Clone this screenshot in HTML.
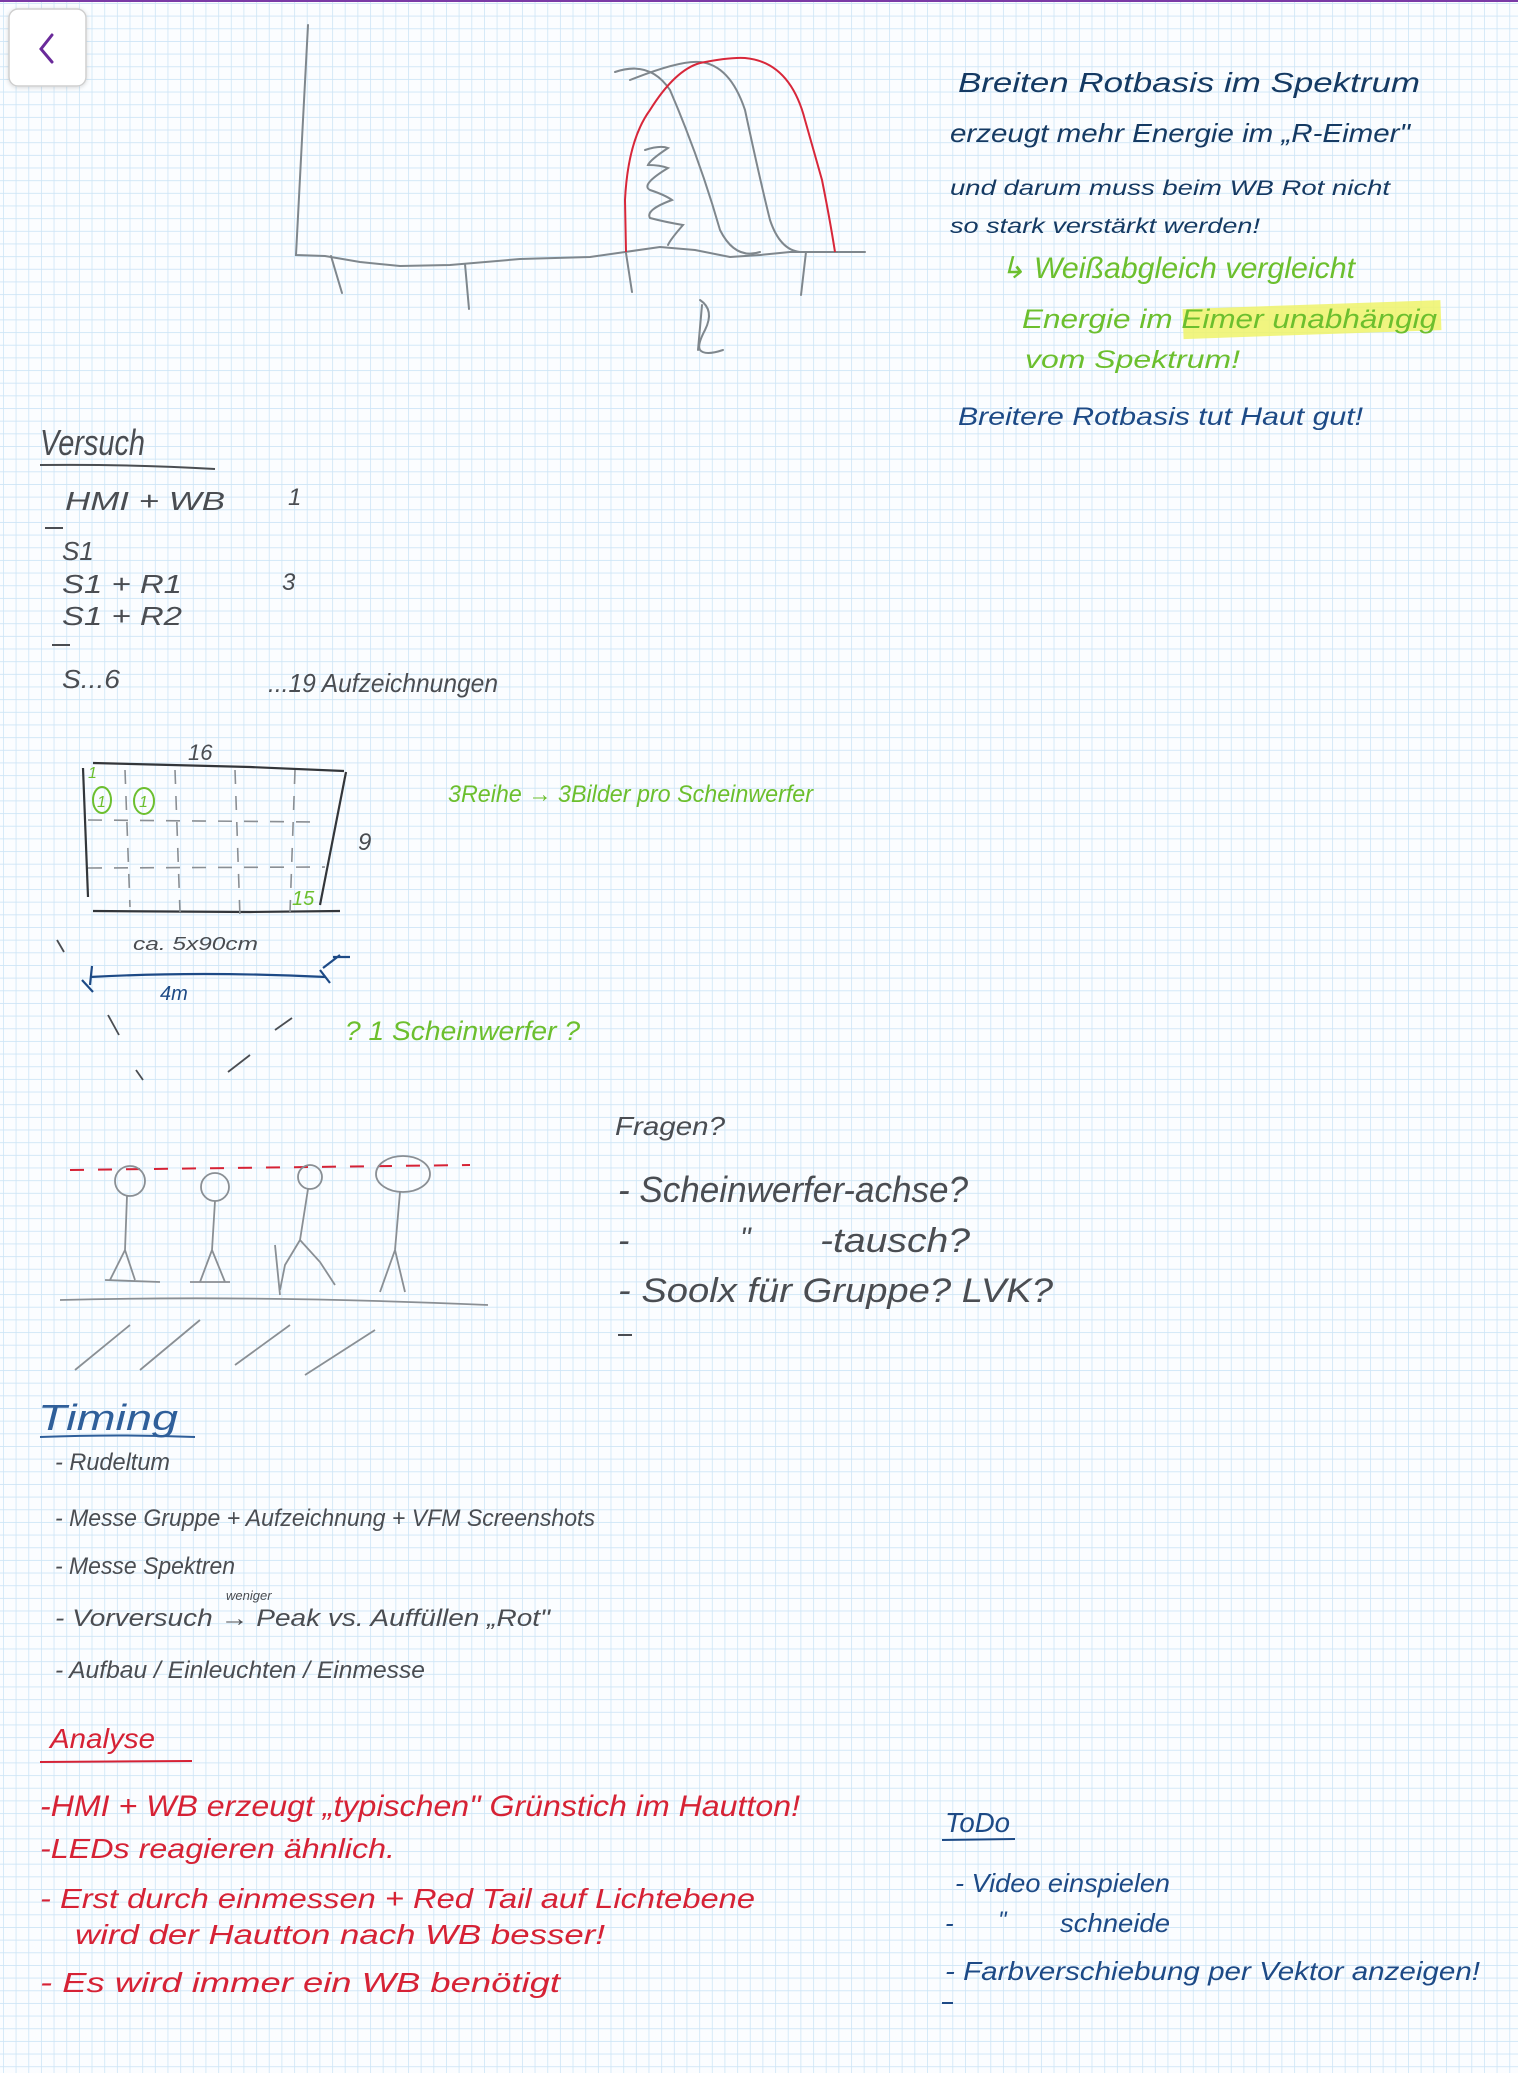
<!DOCTYPE html>
<html><head><meta charset="utf-8"><style>
html,body{margin:0;padding:0;width:1518px;height:2073px;overflow:hidden;background:#fbfdff}
svg{display:block}
text{font-family:"Liberation Sans",sans-serif;font-style:italic}
.g{fill:#4a4d52}.b{fill:#1d4a86}.gr{fill:#6cbf2e}.r{fill:#d62235}
</style></head><body>
<svg width="1518" height="2073" viewBox="0 0 1518 2073" xmlns="http://www.w3.org/2000/svg">
<defs>
<pattern id="grid" x="3" y="3" width="12.658" height="12.658" patternUnits="userSpaceOnUse">
<path d="M0 0H12.658M0 0V12.658" stroke="#cde5f6" stroke-width="1.6" fill="none"/>
</pattern>
<filter id="sh" x="-20%" y="-20%" width="140%" height="140%"><feDropShadow dx="0" dy="1" stdDeviation="2" flood-opacity="0.15"/></filter>
</defs>
<rect width="1518" height="2073" fill="#fbfdff"/>
<rect width="1518" height="2073" fill="url(#grid)"/>
<rect width="1518" height="2" fill="#7b3aa6"/>
<rect x="9" y="9" width="77" height="77" rx="9" fill="#fff" stroke="#cfcfcf" stroke-width="1.5" filter="url(#sh)"/>
<path d="M52 35 L41 49 L52 62" stroke="#6a2a9a" stroke-width="3" fill="none" stroke-linecap="round"/>

<g fill="none" stroke="#7f878d" stroke-width="2" stroke-linecap="round">
<path d="M308 25 L303 120 L296 255 L325 256 L360 262 L400 266 L450 265 L520 259 L590 257 L625 252 L660 247 L695 250 L730 257 L760 255 L790 252 L865 252"/>
<path d="M331 256 L342 293"/><path d="M465 264 L469 309"/><path d="M626 253 L632 292"/><path d="M806 252 L801 295"/>
<path d="M615 72 Q650 60 670 90 Q700 160 720 230 Q735 260 760 252"/>
<path d="M630 80 Q680 60 700 62 Q730 65 745 110 Q760 180 770 220 Q780 250 800 252"/>
<path d="M645 150 Q660 145 668 148 Q650 160 648 165 Q660 165 668 168 Q640 185 650 190 Q665 195 672 200 Q645 210 650 218 Q665 222 683 225 Q670 240 668 245"/>
<path d="M700 300 Q715 310 705 330 Q697 345 700 350 Q705 356 723 350 M702 305 L698 350"/>
</g>
<path d="M626 252 L625 200 Q628 140 650 110 Q675 70 700 63 Q730 57 745 58 Q790 62 805 120 Q815 155 822 180 Q830 220 835 252" fill="none" stroke="#d8273a" stroke-width="2"/>

<text x="958" y="92" font-size="28" textLength="462" lengthAdjust="spacingAndGlyphs" style="fill:#153a63">Breiten Rotbasis im Spektrum</text>
<text x="950" y="142" font-size="26" textLength="460" lengthAdjust="spacingAndGlyphs" style="fill:#153a63">erzeugt mehr Energie im „R-Eimer"</text>
<text x="950" y="195" font-size="21" textLength="440" lengthAdjust="spacingAndGlyphs" style="fill:#153a63">und darum muss beim WB Rot nicht</text>
<text x="950" y="233" font-size="21" textLength="310" lengthAdjust="spacingAndGlyphs" style="fill:#153a63">so stark verstärkt werden!</text>
<rect x="1183" y="305" width="258" height="30" fill="#eef36a" opacity="0.85" transform="rotate(-2 1300 320)"/>
<text x="1000" y="278" class="gr" font-size="30" textLength="355" lengthAdjust="spacingAndGlyphs">↳ Weißabgleich vergleicht</text>
<text x="1022" y="328" class="gr" font-size="27" textLength="415" lengthAdjust="spacingAndGlyphs">Energie im Eimer unabhängig</text>
<text x="1025" y="368" class="gr" font-size="25" textLength="215" lengthAdjust="spacingAndGlyphs">vom Spektrum!</text>
<text x="958" y="425" class="b" font-size="25" textLength="405" lengthAdjust="spacingAndGlyphs">Breitere Rotbasis tut Haut gut!</text>

<text x="40" y="455" class="g" font-size="36" textLength="105" lengthAdjust="spacingAndGlyphs">Versuch</text>
<path d="M40 465 Q130 464 215 469" stroke="#4a4d52" stroke-width="2" fill="none"/>
<text x="65" y="510" class="g" font-size="26" textLength="160" lengthAdjust="spacingAndGlyphs">HMI + WB</text>
<text x="288" y="505" class="g" font-size="24">1</text>
<path d="M45 528 L63 528 M52 645 L70 645" stroke="#4a4d52" stroke-width="2"/>
<text x="62" y="560" class="g" font-size="26">S1</text>
<text x="62" y="593" class="g" font-size="26" textLength="120" lengthAdjust="spacingAndGlyphs">S1 + R1</text>
<text x="282" y="590" class="g" font-size="24">3</text>
<text x="62" y="625" class="g" font-size="26" textLength="120" lengthAdjust="spacingAndGlyphs">S1 + R2</text>
<text x="62" y="688" class="g" font-size="26" textLength="58" lengthAdjust="spacingAndGlyphs">S...6</text>
<text x="268" y="692" class="g" font-size="26" textLength="230" lengthAdjust="spacingAndGlyphs">...19 Aufzeichnungen</text>

<g stroke="#33363a" stroke-width="2.2" fill="none">
<path d="M93 763 L250 767 L344 771"/><path d="M83 768 L88 897"/><path d="M346 772 L320 905"/><path d="M93 911 L250 912 L340 911"/>
</g>
<g stroke="#8a8f94" stroke-width="1.6" fill="none" stroke-dasharray="14 12">
<path d="M125 770 L130 907"/><path d="M175 770 L180 912"/><path d="M235 770 L240 917"/><path d="M295 770 L290 912"/>
<path d="M88 820 L320 822"/><path d="M88 868 L325 867"/>
</g>
<text x="188" y="760" class="g" font-size="22">16</text>
<text x="358" y="850" class="g" font-size="24">9</text>
<g stroke="#6cbf2e" stroke-width="2" fill="none"><ellipse cx="102" cy="800" rx="9" ry="13"/><ellipse cx="144" cy="801" rx="10" ry="13"/></g>
<text x="97" y="807" class="gr" font-size="16">1</text><text x="139" y="807" class="gr" font-size="16">1</text>
<text x="88" y="778" class="gr" font-size="16">1</text>
<text x="292" y="905" class="gr" font-size="20">15</text>
<text x="133" y="950" class="g" font-size="18" textLength="125" lengthAdjust="spacingAndGlyphs">ca. 5x90cm</text>
<g stroke="#1d4a86" stroke-width="2.2" fill="none">
<path d="M90 977 Q200 971 326 977"/><path d="M82 980 L93 992 M92 966 L90 985 M320 970 L330 983 M333 957 L350 957 M323 968 L340 955"/>
</g>
<text x="160" y="1000" class="b" font-size="20">4m</text>
<g stroke="#4a4d52" stroke-width="1.8" fill="none">
<path d="M57 940 L64 952"/><path d="M108 1015 L119 1035"/><path d="M136 1070 L143 1080"/><path d="M275 1030 L292 1018"/><path d="M228 1072 L250 1055"/>
</g>
<text x="345" y="1040" class="gr" font-size="27" textLength="235" lengthAdjust="spacingAndGlyphs">? 1 Scheinwerfer ?</text>
<text x="448" y="802" class="gr" font-size="24" textLength="365" lengthAdjust="spacingAndGlyphs">3Reihe → 3Bilder pro Scheinwerfer</text>

<path d="M70 1170 L470 1165" stroke="#d62235" stroke-width="2" stroke-dasharray="14 14" fill="none"/>
<g stroke="#8a8f94" stroke-width="1.8" fill="none">
<circle cx="130" cy="1181" r="15"/><circle cx="215" cy="1187" r="14"/><circle cx="310" cy="1177" r="12"/><ellipse cx="403" cy="1174" rx="27" ry="18"/>
<path d="M127 1196 L125 1250 L110 1280 M125 1250 L135 1280 M105 1280 L160 1282"/>
<path d="M215 1201 L212 1250 L200 1282 M212 1250 L225 1282 M190 1282 L230 1282"/>
<path d="M308 1189 L300 1240 L285 1265 L280 1290 M300 1240 L320 1262 L335 1285"/>
<path d="M400 1192 L395 1250 L380 1292 M395 1250 L405 1292 M275 1245 L280 1295"/>
<path d="M60 1300 Q260 1295 488 1305"/>
<path d="M75 1370 L130 1325 M140 1370 L200 1320 M235 1365 L290 1325 M305 1375 L375 1330"/>
</g>

<text x="615" y="1135" class="g" font-size="26" textLength="110" lengthAdjust="spacingAndGlyphs">Fragen?</text>
<text x="618" y="1202" class="g" font-size="36" textLength="350" lengthAdjust="spacingAndGlyphs">- Scheinwerfer-achse?</text>
<text x="618" y="1252" class="g" font-size="34">-</text>
<text x="740" y="1248" class="g" font-size="30">"</text>
<text x="820" y="1252" class="g" font-size="34" textLength="150" lengthAdjust="spacingAndGlyphs">-tausch?</text>
<text x="618" y="1302" class="g" font-size="34" textLength="435" lengthAdjust="spacingAndGlyphs">- Soolx für Gruppe? LVK?</text>
<path d="M618 1335 L632 1335" stroke="#4a4d52" stroke-width="2"/>

<text x="38" y="1430" font-size="36" textLength="140" lengthAdjust="spacingAndGlyphs" style="fill:#2f5f9a">Timing</text>
<path d="M40 1437 Q120 1434 195 1437" stroke="#2f5f9a" stroke-width="2" fill="none"/>
<text x="55" y="1470" class="g" font-size="24" textLength="115" lengthAdjust="spacingAndGlyphs">- Rudeltum</text>
<text x="55" y="1526" class="g" font-size="24" textLength="540" lengthAdjust="spacingAndGlyphs">- Messe Gruppe + Aufzeichnung + VFM Screenshots</text>
<text x="55" y="1574" class="g" font-size="24" textLength="180" lengthAdjust="spacingAndGlyphs">- Messe Spektren</text>
<text x="226" y="1600" class="g" font-size="13">weniger</text>
<text x="55" y="1626" class="g" font-size="24" textLength="495" lengthAdjust="spacingAndGlyphs">- Vorversuch → Peak vs. Auffüllen „Rot"</text>
<text x="55" y="1678" class="g" font-size="24" textLength="370" lengthAdjust="spacingAndGlyphs">- Aufbau / Einleuchten / Einmesse</text>

<text x="50" y="1748" class="r" font-size="28" textLength="105" lengthAdjust="spacingAndGlyphs">Analyse</text>
<path d="M40 1762 L192 1761" stroke="#d62235" stroke-width="2"/>
<text x="40" y="1816" class="r" font-size="30" textLength="760" lengthAdjust="spacingAndGlyphs">-HMI + WB erzeugt „typischen" Grünstich im Hautton!</text>
<text x="40" y="1858" class="r" font-size="28" textLength="355" lengthAdjust="spacingAndGlyphs">-LEDs reagieren ähnlich.</text>
<text x="40" y="1908" class="r" font-size="28" textLength="715" lengthAdjust="spacingAndGlyphs">- Erst durch einmessen + Red Tail auf Lichtebene</text>
<text x="75" y="1944" class="r" font-size="28" textLength="530" lengthAdjust="spacingAndGlyphs">wird der Hautton nach WB besser!</text>
<text x="40" y="1992" class="r" font-size="28" textLength="520" lengthAdjust="spacingAndGlyphs">- Es wird immer ein WB benötigt</text>

<text x="945" y="1832" class="b" font-size="28" textLength="65" lengthAdjust="spacingAndGlyphs">ToDo</text>
<path d="M942 1840 L1015 1839" stroke="#1d4a86" stroke-width="2"/>
<text x="955" y="1892" class="b" font-size="26" textLength="215" lengthAdjust="spacingAndGlyphs">- Video einspielen</text>
<text x="945" y="1932" class="b" font-size="26">-</text>
<text x="998" y="1928" class="b" font-size="24">"</text>
<text x="1060" y="1932" class="b" font-size="26" textLength="110" lengthAdjust="spacingAndGlyphs">schneide</text>
<text x="945" y="1980" class="b" font-size="26" textLength="535" lengthAdjust="spacingAndGlyphs">- Farbverschiebung per Vektor anzeigen!</text>
<path d="M942 2003 L953 2003" stroke="#1d4a86" stroke-width="2"/>
</svg>
</body></html>
